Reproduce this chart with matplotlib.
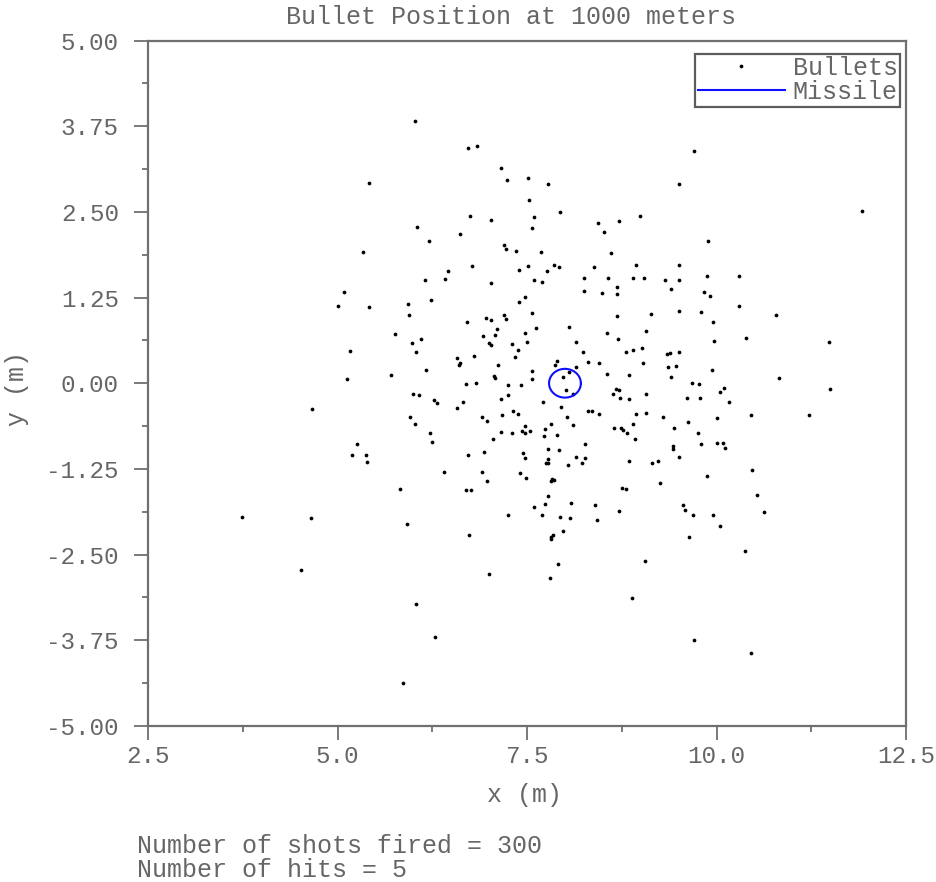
import numpy as np
import matplotlib
matplotlib.use("Agg")
import matplotlib.pyplot as plt
from matplotlib.ticker import MultipleLocator, FormatStrFormatter

plt.rcParams['font.family'] = ['Liberation Mono', 'DejaVu Sans Mono']

# Bullet impact points (m) at 1000 meters
bullet_x = [
    5.42, 5.33,
    6.02, 6.72, 6.84, 7.16, 7.24, 7.51, 7.78, 7.52, 6.75, 7.02, 7.59, 7.94, 8.44, 8.71,
    8.99, 6.05, 6.20, 6.62, 7.57, 8.51, 7.20, 7.22, 7.36, 7.68, 8.61, 8.94, 6.77, 7.51,
    7.86, 7.92, 8.38,
    9.70, 9.50, 11.92, 9.89, 9.51,
    5.08, 5.00, 5.41, 5.76, 5.17, 5.70, 5.12, 4.66, 5.25, 5.19, 5.38, 5.39, 5.82,
    6.46, 7.40, 7.76, 6.15, 6.42, 7.03, 7.59, 7.70, 8.25, 8.57, 8.90, 9.04, 8.25, 8.49,
    8.68, 8.69, 5.93, 6.23, 7.39, 7.47, 5.94, 7.19, 7.22, 7.56, 8.68, 9.13, 6.71, 6.96,
    7.03, 7.11, 7.47, 7.62, 8.05, 8.56, 9.07, 7.08, 6.92, 5.98, 6.10, 7.00, 7.03, 7.30,
    7.50, 8.14, 8.70, 6.04, 7.38, 8.24, 8.80, 8.90, 9.02, 6.80, 7.34, 6.58, 6.61, 6.60,
    7.12, 7.90, 7.87, 8.31, 8.45, 9.03, 6.17, 7.57, 8.14, 7.07, 7.08, 7.57, 7.98, 8.05,
    8.56, 8.84, 6.69, 6.83, 7.25, 7.42, 8.01, 8.10, 8.67, 8.71, 8.64, 6.00, 6.07, 7.25,
    9.07, 6.27, 6.31, 6.65, 7.15, 8.73, 8.84, 7.71, 7.95, 6.58, 7.32, 7.38, 8.31, 8.36,
    8.45, 8.94, 9.07, 5.96, 6.02, 6.91, 6.97, 7.17, 8.03, 7.47, 7.82, 7.74, 8.11, 8.65,
    8.74, 8.76, 8.90, 8.82, 6.22, 7.16, 7.30, 7.43, 7.47, 7.54, 7.73, 7.90, 6.25, 7.05,
    8.27, 8.92, 7.77, 7.92, 6.72, 6.93, 7.45, 7.47, 7.78, 7.75, 7.78, 8.15, 8.26, 8.23,
    8.04, 6.41, 6.90, 7.41, 8.84, 9.15, 6.97, 7.49, 7.83, 7.82, 7.85, 6.69, 6.76, 8.75,
    8.81, 7.78,
    9.32, 9.50, 9.88, 10.30, 9.40, 9.83, 9.91, 10.29, 9.51, 9.79, 10.79, 9.95, 10.39, 9.96,
    11.48, 9.35, 9.39, 9.50, 9.36, 9.46, 9.94, 9.40, 10.83, 9.68, 9.77, 10.10, 10.05, 11.50,
    9.61, 9.78, 10.16, 9.29, 10.00, 10.45, 11.22, 9.62, 9.44, 9.76, 9.43, 9.43, 9.80, 10.01,
    10.08, 10.11, 9.51, 9.23, 10.47, 9.26, 9.87, 10.53,
    3.74, 4.65, 4.52,
    7.59, 7.74, 8.08, 8.39, 8.71, 7.25, 7.70, 7.93, 8.06, 8.42, 5.91, 6.74, 7.84, 7.82,
    7.81, 7.98, 7.91, 9.06, 7.00, 7.80, 6.04, 8.89, 6.28, 5.86,
    9.56, 9.59, 9.69, 9.95, 10.63, 10.05, 9.63, 10.38, 9.70, 10.46,
]
bullet_y = [
    2.92, 1.92,
    3.82, 3.43, 3.46, 3.14, 2.96, 2.99, 2.91, 2.68, 2.44, 2.38, 2.43, 2.50, 2.34, 2.37,
    2.44, 2.28, 2.07, 2.18, 2.27, 2.20, 2.01, 1.96, 1.93, 1.92, 1.90, 1.73, 1.71, 1.71,
    1.72, 1.69, 1.69,
    3.39, 2.91, 2.52, 2.07, 1.72,
    1.33, 1.13, 1.11, 0.72, 0.47, 0.12, 0.06, -0.38, -0.89, -1.05, -1.05, -1.15, -1.54,
    1.64, 1.65, 1.64, 1.50, 1.52, 1.46, 1.50, 1.48, 1.54, 1.54, 1.53, 1.54, 1.35, 1.31,
    1.41, 1.30, 1.16, 1.21, 1.18, 1.26, 0.99, 0.99, 0.94, 1.03, 0.98, 1.01, 0.89, 0.95,
    0.92, 0.79, 0.74, 0.80, 0.82, 0.74, 0.76, 0.71, 0.69, 0.58, 0.64, 0.59, 0.56, 0.57,
    0.60, 0.60, 0.65, 0.46, 0.48, 0.45, 0.45, 0.48, 0.51, 0.40, 0.39, 0.37, 0.29, 0.27,
    0.27, 0.33, 0.26, 0.31, 0.29, 0.29, 0.19, 0.18, 0.24, 0.11, 0.07, 0.06, 0.09, 0.16,
    0.13, 0.12, -0.01, 0.01, -0.02, -0.02, -0.10, -0.15, -0.08, -0.10, -0.16, -0.15, -0.17, -0.17,
    -0.15, -0.24, -0.29, -0.27, -0.23, -0.22, -0.23, -0.27, -0.35, -0.36, -0.41, -0.45, -0.41, -0.40,
    -0.45, -0.45, -0.43, -0.49, -0.59, -0.50, -0.55, -0.47, -0.50, -0.62, -0.60, -0.67, -0.61, -0.66,
    -0.65, -0.68, -0.60, -0.72, -0.72, -0.71, -0.72, -0.70, -0.73, -0.69, -0.77, -0.75, -0.86, -0.82,
    -0.88, -0.82, -0.96, -0.98, -1.04, -1.01, -1.02, -1.09, -1.10, -1.16, -1.16, -1.07, -1.09, -1.16,
    -1.19, -1.30, -1.30, -1.31, -1.13, -1.16, -1.43, -1.39, -1.40, -1.43, -1.41, -1.56, -1.56, -1.53,
    -1.55, -1.64,
    1.51, 1.51, 1.57, 1.57, 1.37, 1.33, 1.28, 1.12, 1.05, 1.04, 1.00, 0.90, 0.66, 0.62,
    0.60, 0.42, 0.44, 0.45, 0.23, 0.25, 0.20, 0.09, 0.07, 0.00, -0.01, -0.07, -0.13, -0.09,
    -0.21, -0.21, -0.27, -0.49, -0.51, -0.47, -0.47, -0.56, -0.65, -0.73, -0.91, -0.96, -0.88, -0.87,
    -0.87, -0.94, -1.07, -1.13, -1.27, -1.46, -1.35, -1.63,
    -1.95, -1.96, -2.72,
    -1.81, -1.76, -1.75, -1.78, -1.86, -1.93, -1.93, -1.95, -1.96, -1.99, -2.06, -2.22, -2.21, -2.24,
    -2.27, -2.16, -2.64, -2.59, -2.78, -2.84, -3.22, -3.14, -3.70, -4.37,
    -1.77, -1.85, -1.92, -1.92, -1.88, -2.08, -2.24, -2.45, -3.74, -3.94,
]

# Missile position and radius (m)
missile_x = 8.0
missile_y = 0.0
missile_r = 0.21

shots_fired = 300
hits = 5

text_color = '#666666'
axis_color = '#707070'
fs = 18
tick_fs = 17.5

fig = plt.figure(figsize=(9.37, 8.82), dpi=100)
ax = fig.add_axes([0.158, 0.177, 0.809, 0.777])

ax.plot(bullet_x, bullet_y, 'o', color='black', markersize=2.7, markeredgewidth=0,
        linestyle='none', label='Bullets')

t = np.linspace(0, 2 * np.pi, 200)
ax.plot(missile_x + missile_r * np.cos(t), missile_y + missile_r * np.sin(t),
        color='#1010ff', linewidth=1.5, label='Missile')

ax.set_xlim(2.5, 12.5)
ax.set_ylim(-5, 5)
ax.xaxis.set_major_locator(MultipleLocator(2.5))
ax.xaxis.set_minor_locator(MultipleLocator(1.25))
ax.yaxis.set_major_locator(MultipleLocator(1.25))
ax.yaxis.set_minor_locator(MultipleLocator(0.625))
ax.xaxis.set_major_formatter(FormatStrFormatter('%.1f'))
ax.yaxis.set_major_formatter(FormatStrFormatter('%.2f'))

ax.tick_params(which='major', direction='out', length=10, width=1.3,
               color=axis_color, labelsize=tick_fs, labelcolor=text_color)
ax.tick_params(which='minor', direction='out', length=4, width=1.3, color=axis_color)
ax.tick_params(axis='x', which='major', pad=4)
ax.tick_params(axis='y', which='major', pad=11)
for side in ax.spines.values():
    side.set_color(axis_color)
    side.set_linewidth(1.6)

ax.set_xlabel('x (m)', fontsize=fs, color=text_color)
ax.set_ylabel('y (m)', fontsize=fs, color=text_color)
ax.xaxis.set_label_coords(0.496, -0.083)
ax.yaxis.set_label_coords(-0.157, 0.492)

fig.text(511 / 937, 1 - 17 / 882, 'Bullet Position at 1000 meters', fontsize=fs,
         color=text_color, ha='center', va='center')

leg = ax.legend(loc='upper right', bbox_to_anchor=(0.992, 0.981), fontsize=fs,
                frameon=True, fancybox=False, borderpad=0.1, labelspacing=0.0,
                handlelength=3.5, handletextpad=0.3, borderaxespad=0.0)
leg.get_frame().set_edgecolor('#333333')
leg.get_frame().set_linewidth(1.6)
for txt in leg.get_texts():
    txt.set_color(text_color)

fig.text(137 / 937, 1 - 858 / 882,
         f'Number of shots fired = {shots_fired}\nNumber of hits = {hits}',
         fontsize=fs, color=text_color, ha='left', va='center', linespacing=0.95)

fig.savefig('out.png', dpi=100)
